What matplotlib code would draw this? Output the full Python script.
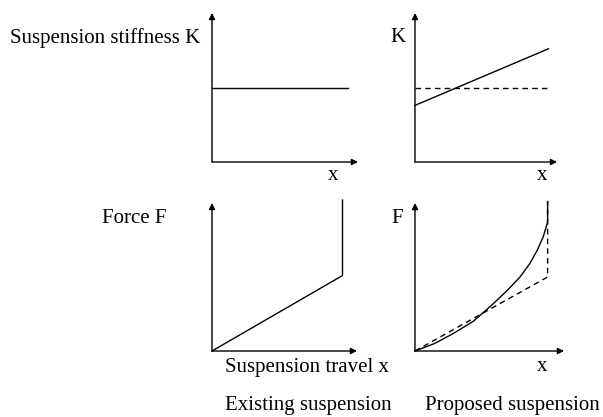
import matplotlib
matplotlib.use("Agg")
import matplotlib.pyplot as plt

# ---- data (axis units: 0 = origin, 1 = arrow tip) ----
# existing suspension: constant stiffness
k_exist_x = [0.0, 0.93]
k_exist_y = [0.50, 0.50]
# proposed suspension: rising stiffness, old one dashed
k_prop_x = [0.0, 0.94]
k_prop_y = [0.38, 0.76]
k_old_x = [0.0, 0.96]
k_old_y = [0.50, 0.50]
# force vs travel, existing: linear then bump stop
f_exist_x = [0.0, 0.90, 0.90]
f_exist_y = [0.0, 0.51, 1.02]
# force vs travel, proposed: progressive curve, old one dashed
f_prop_x = [0.0, 0.13, 0.26, 0.39, 0.515, 0.62, 0.705, 0.77, 0.82, 0.86, 0.89, 0.89]
f_prop_y = [0.0, 0.05, 0.12, 0.20, 0.31, 0.41, 0.50, 0.59, 0.68, 0.77, 0.87, 1.01]
f_old_x = [0.0, 0.89, 0.89]
f_old_y = [0.0, 0.50, 1.01]

W, H = 603, 417
plt.rcParams['font.family'] = ['Liberation Serif', 'DejaVu Serif']
fig = plt.figure(figsize=(W / 100, H / 100), dpi=100)


def px_axes(left, bottom, right, top):
    # panel rectangle given in image pixels (y measured from the top)
    ax = fig.add_axes([left / W, 1 - bottom / H, (right - left) / W, (bottom - top) / H])
    ax.set_xlim(0, 1)
    ax.set_ylim(0, 1)
    ax.axis('off')
    arrow = dict(arrowstyle='-|>', lw=1.0, color='black', mutation_scale=9,
                 shrinkA=0, shrinkB=0)
    ax.annotate('', xy=(1, 0), xytext=(0, 0), arrowprops=arrow, annotation_clip=False)
    ax.annotate('', xy=(0, 1), xytext=(0, 0), arrowprops=arrow, annotation_clip=False)
    return ax


def txt(x, y, s, **kw):
    fig.text(x / W, 1 - y / H, s, fontsize=15, va='baseline', **kw)


ax1 = px_axes(212, 162, 358, 13)
ax1.plot(k_exist_x, k_exist_y, color='black', lw=1.0, clip_on=False)

ax2 = px_axes(415, 162, 557, 13)
ax2.plot(k_old_x, k_old_y, color='black', lw=1.0, ls=(0, (4, 3)), clip_on=False)
ax2.plot(k_prop_x, k_prop_y, color='black', lw=1.0, clip_on=False)

ax3 = px_axes(212, 351, 357, 203)
ax3.plot(f_exist_x, f_exist_y, color='black', lw=1.0, clip_on=False)

ax4 = px_axes(415, 351, 564, 203)
ax4.plot(f_old_x, f_old_y, color='black', lw=1.0, ls=(0, (4, 3)), clip_on=False)
ax4.plot(f_prop_x, f_prop_y, color='black', lw=1.0, clip_on=False)

txt(10, 43, 'Suspension stiffness K')
txt(390, 42, 'K')
txt(328, 180, 'x')
txt(537, 180, 'x')
txt(102, 223, 'Force F')
txt(391, 223, 'F')
txt(225, 372, 'Suspension travel x')
txt(537, 371, 'x')
txt(225, 410, 'Existing suspension')
txt(425, 410, 'Proposed suspension')

fig.savefig('out.png', dpi=100)
